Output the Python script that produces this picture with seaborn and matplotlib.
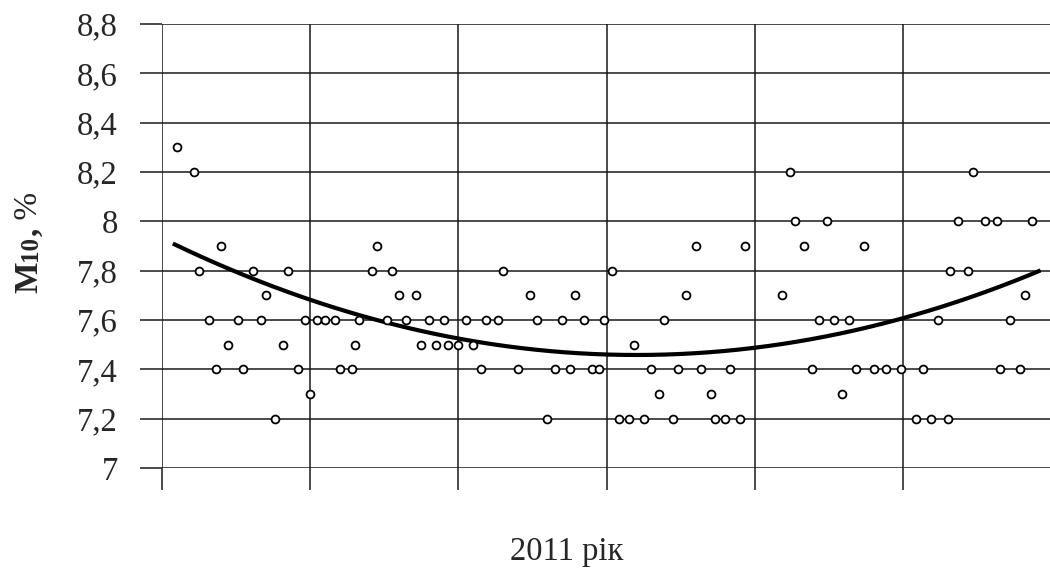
import numpy as np
import pandas as pd
import matplotlib
matplotlib.use("Agg")
import matplotlib.pyplot as plt
import seaborn as sns

# Day of year (2011) and measured M10 values, %
day = [6, 13, 15, 19, 22, 24, 27, 31, 33, 37, 40, 42, 46, 49, 51, 55, 58, 60,
       63, 66, 70, 72, 77, 78, 80, 85, 87, 91, 93, 96, 99, 103, 105, 108, 111,
       114, 116, 120, 123, 126, 129, 131, 136, 138, 144, 149, 152, 156, 159,
       162, 165, 167, 171, 174, 177, 179, 182, 185, 189, 191, 195, 198, 201,
       203, 207, 209, 212, 216, 218, 222, 224, 228, 230, 234, 236, 251, 254,
       256, 260, 263, 266, 269, 272, 275, 278, 281, 284, 288, 293, 299, 305,
       308, 311, 314, 318, 319, 322, 326, 328, 333, 338, 339, 343, 347, 349,
       352]
m10 = [8.3, 8.2, 7.8, 7.6, 7.4, 7.9, 7.5, 7.6, 7.4, 7.8, 7.6, 7.7, 7.2, 7.5,
       7.8, 7.4, 7.6, 7.3, 7.6, 7.6, 7.6, 7.4, 7.4, 7.5, 7.6, 7.8, 7.9, 7.6,
       7.8, 7.7, 7.6, 7.7, 7.5, 7.6, 7.5, 7.6, 7.5, 7.5, 7.6, 7.5, 7.4, 7.6,
       7.6, 7.8, 7.4, 7.7, 7.6, 7.2, 7.4, 7.6, 7.4, 7.7, 7.6, 7.4, 7.4, 7.6,
       7.8, 7.2, 7.2, 7.5, 7.2, 7.4, 7.3, 7.6, 7.2, 7.4, 7.7, 7.9, 7.4, 7.3,
       7.2, 7.2, 7.4, 7.2, 7.9, 7.7, 8.2, 8.0, 7.9, 7.4, 7.6, 8.0, 7.6, 7.3,
       7.6, 7.4, 7.9, 7.4, 7.4, 7.4, 7.2, 7.4, 7.2, 7.6, 7.2, 7.8, 8.0, 7.8,
       8.2, 8.0, 8.0, 7.4, 7.6, 7.4, 7.7, 8.0]

# second-order polynomial trend: a*d^2 + b*d + c, and the days it covers
trend_coef = [1.284e-5, -4.933e-3, 7.932]
trend_span = [4.5, 355.5]

y_ticks = [7.0, 7.2, 7.4, 7.6, 7.8, 8.0, 8.2, 8.4, 8.6, 8.8]
y_tick_labels = ["7", "7,2", "7,4", "7,6", "7,8", "8", "8,2", "8,4", "8,6", "8,8"]
x_ticks = [0, 60, 120, 180, 240, 300, 360]

df = pd.DataFrame({"day": day, "m10": m10})
trend_days = np.linspace(trend_span[0], trend_span[1], 300)
trend_df = pd.DataFrame({"day": trend_days,
                         "m10": np.polyval(trend_coef, trend_days)})

sns.set_style("white")
plt.rcParams["font.family"] = ["Liberation Serif", "DejaVu Serif"]

W, H = 1050, 569
fig = plt.figure(figsize=(W / 100, H / 100), dpi=100)
x0, x1 = 161.7, 1051.7
y0, y1 = 24, 468
ax = fig.add_axes([x0 / W, 1 - y1 / H, (x1 - x0) / W, (y1 - y0) / H])

sns.lineplot(data=trend_df, x="day", y="m10", ax=ax, color="black", lw=3.0,
             solid_capstyle="butt", zorder=3)
sns.scatterplot(data=df, x="day", y="m10", ax=ax, marker="o", s=32,
                facecolor="white", edgecolor="black", linewidth=1.3, zorder=4)

ax.set_xlim(0, 360)
ax.set_ylim(7.0, 8.8)
ax.set_xticks(x_ticks)
ax.set_xticklabels([])
ax.set_yticks(y_ticks)
ax.set_yticklabels(y_tick_labels, fontsize=23.5)
ax.grid(True, color="#1a1a1a", lw=1.1)
ax.set_axisbelow(True)
for s in ax.spines.values():
    s.set_visible(False)
ax.tick_params(axis="y", left=True, direction="out", length=15.5, width=1.1,
               color="#1a1a1a", pad=16)
ax.tick_params(axis="x", bottom=True, direction="out", length=16, width=1.1,
               color="#1a1a1a")
ax.set_xlabel("")
ax.set_ylabel("")

fig.text(567 / W, 1 - 552 / H, "2011 рік", fontsize=23.5,
         ha="center", va="center")

# y-axis title: bold quantity with smaller index digits, regular unit
renderer = fig.canvas.get_renderer()
parts = [("М", 24, "bold"), ("10", 18, "bold"), (",", 24, "bold"),
         (" %", 24, "normal")]
base_x = 37 / W
ypos = 293
for txt, size, weight in parts:
    t = fig.text(base_x, 1 - ypos / H, txt, fontsize=size, fontweight=weight,
                 rotation=90, rotation_mode="anchor", ha="left",
                 va="baseline")
    bb = t.get_window_extent(renderer)
    ypos = H - bb.y1

fig.savefig("out.png", dpi=100, facecolor="white")
